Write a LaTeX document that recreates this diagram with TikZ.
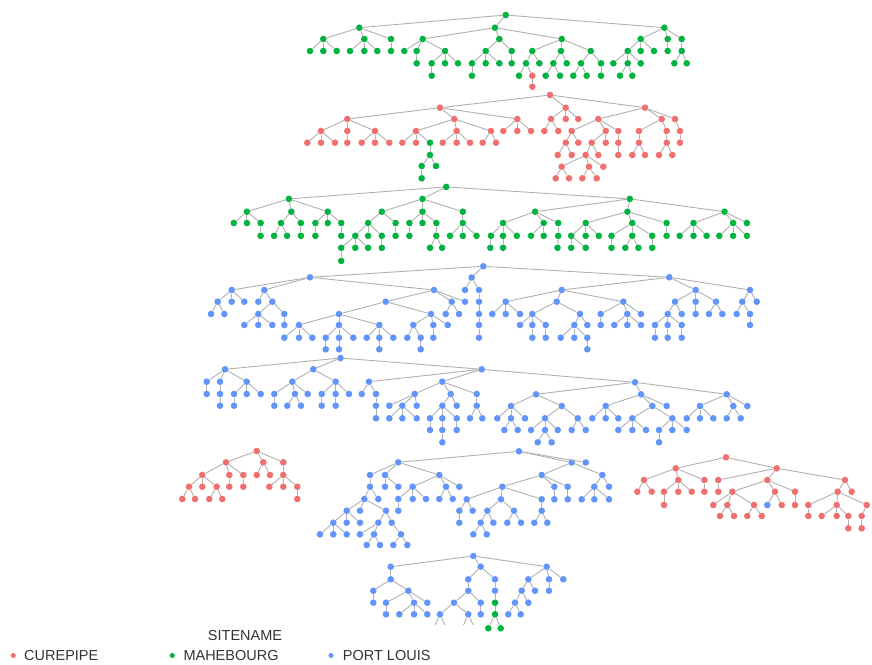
\documentclass[tikz,border=0pt]{standalone}
\usepackage{fontspec}
\setmainfont{Liberation Sans}
\definecolor{colG}{RGB}{0,178,64}
\definecolor{colR}{RGB}{240,112,112}
\definecolor{colB}{RGB}{98,148,250}
\definecolor{edgegray}{RGB}{176,176,176}
\definecolor{txt}{RGB}{51,51,51}
\tikzset{
  dot/.style={circle, inner sep=0pt, minimum size=6.6pt, draw=none},
  edge/.style={draw=edgegray, line width=0.9pt},
  legdot/.style={circle, inner sep=0pt, minimum size=5pt, draw=none},
  legtxt/.style={anchor=west, text=txt, font=\fontsize{14.5}{17}\selectfont, inner sep=0pt}
}
\def\TA{a0/505.7/15/a0/G, a1/359.3/27.7/a0/G, a2/495/27.7/a0/G, a3/664.3/27.7/a0/G,
a4/323.3/39/a1/G, a5/364.3/39/a1/G, a6/391/39/a1/G,
a7/310/51/a4/G, a8/323.3/51/a4/G, a9/336.7/51/a4/G, a10/350/51/a5/G, a11/364.3/51/a5/G, a12/377.3/51/a5/G, a13/391/51/a6/G,
a14/422.7/39/a2/G, a15/499.3/39/a2/G, a16/561.7/39/a2/G,
a17/404.3/51/a14/G, a18/416.7/51/a14/G, a19/445/51/a14/G, a20/416.7/63.3/a18/G,
a21/431.7/63.3/a19/G, a22/445/63.3/a19/G, a23/458/63.3/a19/G, a24/431.7/75.7/a21/G,
a25/485.7/51/a15/G, a26/511.7/51/a15/G, a27/472/63.3/a25/G, a28/485.7/63.3/a25/G, a29/499.3/63.3/a25/G, a30/472/75.7/a27/G, a31/511.7/63.3/a26/G,
a32/532.3/51/a16/G, a33/561/51/a16/G, a34/590.7/51/a16/G,
a35/526/63.3/a32/G, a36/539.3/63.3/a32/G, a37/519/75.7/a35/G, a38/532.3/75.7/a35/R, a39/532.3/86.7/a38/R,
a40/553.3/63.3/a33/G, a41/566.7/63.3/a33/G, a42/545.7/75.7/a40/G, a43/560/75.7/a40/G,
a44/581/63.3/a34/G, a45/601/63.3/a34/G, a46/573.3/75.7/a44/G, a47/586.7/75.7/a44/G, a48/601/75.7/a45/G,
a49/640.7/39/a3/G, a50/667.7/39/a3/G, a51/681.7/39/a3/G,
a52/627.7/51/a49/G, a53/640.7/51/a49/G, a54/654/51/a49/G,
a55/613.3/63.3/a52/G, a56/627.7/63.3/a52/G, a57/640.7/63.3/a52/G, a58/620/75.7/a56/G, a59/632.3/75.7/a56/G,
a60/667.7/51/a50/G, a61/681.7/51/a51/G, a62/674.3/63.3/a61/G, a63/686.7/63.3/a61/G}
\def\TB{b0/550/95/b0/R, b1/440/107.7/b0/R, b2/565.7/107.7/b0/R, b3/645/107.7/b0/R,
b4/347.3/119/b1/R, b5/454.3/119/b1/R, b6/517.3/119/b1/R,
b7/321/131/b4/R, b8/347.3/131/b4/R, b9/375/131/b4/R,
b10/307.3/142.7/b7/R, b11/321/142.7/b7/R, b12/335/142.7/b7/R, b13/347.3/142.7/b8/R,
b14/361.7/142.7/b9/R, b15/375/142.7/b9/R, b16/389.3/142.7/b9/R,
b17/416/131/b5/R, b18/456.7/131/b5/R, b19/491/131/b5/R,
b20/402.3/142.7/b17/R, b21/416/142.7/b17/R, b22/430/142.7/b17/G, b23/430/155/b22/G, b24/421.7/166/b23/G, b25/436/166/b23/G, b26/421.7/178.3/b24/G,
b27/442.7/142.7/b18/R, b28/456.7/142.7/b18/R, b29/470/142.7/b18/R, b30/482.7/142.7/b19/R, b31/496/142.7/b19/R,
b32/503.3/131/b6/R, b33/517.3/131/b6/R, b34/531/131/b6/R,
b35/551/119/b2/R, b36/565.7/119/b2/R, b37/578.3/119/b2/R, b38/544.3/131/b35/R, b39/558.3/131/b35/R,
b40/598.3/119/b3/R, b41/661.7/119/b3/R, b42/675/119/b3/R,
b43/571.7/131/b40/R, b44/605.7/131/b40/R, b45/618.3/131/b40/R,
b46/565.7/142.7/b43/R, b47/578.3/142.7/b43/R, b48/557.7/155/b46/R, b49/571.7/155/b46/R,
b50/591.7/142.7/b44/R, b51/605.7/142.7/b44/R, b52/585.7/155/b50/R, b53/598.3/155/b50/R,
b54/561.7/166.7/b52/R, b55/589/166.7/b52/R, b56/603.3/166.7/b52/R,
b57/555.7/178.3/b54/R, b58/569/178.3/b54/R, b59/582.3/178.3/b55/R, b60/596.7/178.3/b55/R,
b61/618.3/142.7/b45/R, b62/618.3/155/b61/R,
b63/639/131/b41/R, b64/666.7/131/b41/R, b65/680/131/b42/R,
b66/639/142.7/b63/R, b67/632.3/155/b66/R, b68/645/155/b66/R,
b69/666.7/142.7/b64/R, b70/659/155/b69/R, b71/672.3/155/b69/R, b72/680/142.7/b65/R}
\def\TC{c0/446.2/186.9/c0/G, c1/288.9/198.9/c0/G, c2/422.5/198.9/c0/G, c3/629.8/198.9/c0/G,
c4/246.9/211.7/c1/G, c5/291.3/211.7/c1/G, c6/327.8/211.7/c1/G,
c7/381.8/211.7/c2/G, c8/422.5/211.7/c2/G, c9/462.8/211.7/c2/G,
c10/535.1/211.7/c3/G, c11/627.4/211.7/c3/G, c12/724.5/211.7/c3/G,
c13/233.8/223/c4/G, c14/246.9/223/c4/G, c15/260.6/223/c4/G, c16/281/223/c5/G, c17/300.9/223/c5/G,
c18/315.4/223/c6/G, c19/327.8/223/c6/G, c20/341.2/223/c6/G, c21/368.1/223/c7/G, c22/395.6/223/c7/G,
c23/409.4/223/c8/G, c24/422.5/223/c8/G, c25/436.3/223/c8/G, c26/462.8/223/c9/G,
c27/503/223/c10/G, c28/543.7/223/c10/G, c29/558.2/223/c10/G,
c30/585.7/223/c11/G, c31/632.2/223/c11/G, c32/666.6/223/c11/G,
c33/693.5/223/c12/G, c34/733.1/223/c12/G, c35/746.9/223/c12/G,
c36/260.6/235.8/c15/G, c37/274.1/235.8/c16/G, c38/287.1/235.8/c16/G, c39/300.9/235.8/c17/G, c40/315.4/235.8/c18/G,
c41/341.2/235.8/c20/G, c42/355.3/235.8/c21/G, c43/368.1/235.8/c21/G, c44/381.8/235.8/c21/G, c45/395.6/235.8/c22/G,
c46/409.4/235.8/c23/G, c47/436.3/235.8/c25/G, c48/450/235.8/c26/G, c49/462.8/235.8/c26/G, c50/476.5/235.8/c26/G,
c51/491/235.8/c27/G, c52/503/235.8/c27/G, c53/516.8/235.8/c27/G, c54/531/235.8/c28/G, c55/543.7/235.8/c28/G, c56/558.2/235.8/c29/G,
c57/571.2/235.8/c30/G, c58/585.7/235.8/c30/G, c59/598.8/235.8/c30/G, c60/611.5/235.8/c31/G, c61/632.2/235.8/c31/G, c62/652.2/235.8/c31/G,
c63/666.6/235.8/c32/G, c64/679.7/235.8/c33/G, c65/693.5/235.8/c33/G, c66/706.6/235.8/c33/G,
c67/719.3/235.8/c34/G, c68/733.1/235.8/c34/G, c69/746.9/235.8/c34/G,
c70/341.2/247.8/c42/G, c71/355.3/247.8/c42/G, c72/368.1/247.8/c42/G, c73/381.8/247.8/c44/G,
c74/430/247.8/c47/G, c75/442.1/247.8/c47/G, c76/490.3/247.8/c51/G, c77/503/247.8/c52/G,
c78/557.5/247.8/c56/G, c79/571.2/247.8/c57/G, c80/585.7/247.8/c57/G,
c81/611.5/247.8/c60/G, c82/625.3/247.8/c61/G, c83/638.4/247.8/c61/G, c84/652.2/247.8/c62/G,
c85/341.2/260.9/c70/G}
\def\TD{d0/483.3/266.3/d0/B, d1/310/277.3/d0/B, d2/471.7/277.5/d0/B, d3/669.3/277.3/d0/B,
d4/231.7/290/d1/B, d5/264.3/290/d1/B, d6/434/290/d1/B,
d7/217.7/301.7/d4/B, d8/231.7/301.7/d4/B, d9/244.3/301.7/d4/B, d10/211/314/d7/B, d11/224.3/314/d7/B,
d12/258.3/301.7/d5/B, d13/272.3/301.7/d5/B, d14/258.3/314/d13/B, d15/284.3/314/d13/B,
d16/244.3/325/d14/B, d17/258.3/325/d14/B, d18/272.3/325/d14/B, d19/284.3/325/d15/B,
d20/385.7/301.7/d6/B, d21/451.7/301.7/d6/B, d22/339/314/d20/B, d23/431/314/d20/B,
d24/299/325/d22/B, d25/339/325/d22/B, d26/379.3/325/d22/B,
d27/284.3/337.7/d24/B, d28/299/337.7/d24/B, d29/312.3/337.7/d24/B,
d30/325.7/337.7/d25/B, d31/339/337.7/d25/B, d32/353.3/337.7/d25/B, d33/325.7/349.3/d30/B, d34/339/349.3/d31/B,
d35/366.7/337.7/d26/B, d36/379.3/337.7/d26/B, d37/393.3/337.7/d26/B, d38/379.3/349.3/d36/B,
d39/413.3/325/d23/B, d40/433.3/325/d23/B, d41/447.7/325/d23/B,
d42/407.3/337.7/d39/B, d43/420.7/337.7/d39/B, d44/420.7/349.3/d43/B, d45/433.3/337.7/d40/B,
d46/445.7/314/d21/B, d47/459/314/d21/B,
d48/465/290/d2/B, d49/479/290/d2/B, d50/465/301.7/d6/B, d51/479/301.7/d49/B, d52/479/314/d51/B, d53/479/325/d52/B, d54/479/337.7/d53/B,
d55/561.7/290/d3/B, d56/695.7/290/d3/B, d57/750/290/d3/B,
d58/505.7/301.7/d55/B, d59/556.7/301.7/d55/B, d60/623.3/301.7/d55/B,
d61/492.3/314/d58/B, d62/505.7/314/d58/B, d63/520/314/d58/B, d64/532.3/314/d59/B, d65/580/314/d59/B,
d66/520/325/d64/B, d67/532.3/325/d64/B, d68/545.7/325/d64/B, d69/532.3/337.7/d67/B, d70/545.7/337.7/d68/B,
d71/574.3/325/d65/B, d72/587.3/325/d65/B, d73/560.7/337.7/d71/B, d74/574.3/337.7/d71/B, d75/587.3/337.7/d71/B, d76/587.3/349.3/d75/B,
d77/600.7/314/d60/B, d78/627.3/314/d60/B, d79/641/314/d60/B, d80/600.7/325/d77/B,
d81/614.3/325/d78/B, d82/627.3/325/d78/B, d83/641/325/d78/B,
d84/675/301.7/d56/B, d85/695.7/301.7/d56/B, d86/716/301.7/d56/B,
d87/667.7/314/d84/B, d88/681.7/314/d84/B, d89/655/325/d87/B, d90/667.7/325/d87/B, d91/681.7/325/d87/B,
d92/655/337.7/d89/B, d93/667.7/337.7/d90/B, d94/681.7/337.7/d91/B,
d95/695.7/314/d85/B, d96/709/314/d86/B, d97/722.3/314/d86/B,
d98/742.3/301.7/d57/B, d99/756.7/301.7/d57/B, d100/736.7/314/d98/B, d101/750/314/d98/B, d102/750/325/d101/B}
\def\TE{e0/340.5/358/e0/B, e1/225/369.3/e0/B, e2/313.3/369.3/e0/B, e3/481.7/369.3/e0/B,
e4/206.7/381.7/e1/B, e5/220/381.7/e1/B, e6/246.7/381.7/e1/B, e7/206.7/394/e4/B, e8/220/394/e5/B, e9/220/405.7/e8/B,
e10/234/394/e6/B, e11/246.7/394/e6/B, e12/260.7/394/e6/B, e13/234/405.7/e10/B,
e14/292.3/381.7/e2/B, e15/335.7/381.7/e2/B,
e16/274.3/394/e14/B, e17/295/394/e14/B, e18/307.7/394/e14/B, e19/274.3/405.7/e16/B, e20/287.3/405.7/e17/B, e21/301/405.7/e17/B,
e22/321.7/394/e15/B, e23/335.7/394/e15/B, e24/349/394/e15/B, e25/321.7/405.7/e22/B, e26/335.7/405.7/e23/B,
e27/369/381.7/e3/B, e28/442.3/381.7/e3/B, e29/635/382.3/e3/B,
e30/361.7/394/e27/B, e31/376/394/e27/B, e32/376/405.7/e31/B, e33/376/418.3/e32/B,
e34/414.7/394/e28/B, e35/450.7/394/e28/B, e36/476.7/394/e28/B,
e37/389.3/405.7/e34/B, e38/402.3/405.7/e34/B, e39/416.7/405.7/e34/B,
e40/389.3/418.3/e38/B, e41/402.3/418.3/e38/B, e42/416.7/418.3/e38/B,
e43/442.3/405.7/e35/B, e44/456.7/405.7/e35/B, e45/430/418.3/e43/B, e46/442.3/418.3/e43/B, e47/456.7/418.3/e43/B,
e48/430/430/e45/B, e49/442.3/430/e46/B, e50/442.3/442.3/e49/B, e51/456.7/430/e47/B,
e52/476.7/405.7/e36/B, e53/470/418.3/e52/B, e54/482.3/418.3/e52/B,
e55/536/394.3/e29/B, e56/641/394.3/e29/B, e57/726.7/394.3/e29/B,
e58/511/406/e55/B, e59/561.7/406/e55/B, e60/497.3/418.3/e58/B, e61/511/418.3/e58/B, e62/525/418.3/e58/B,
e63/504.3/430/e61/B, e64/517.7/430/e61/B, e65/545/418.3/e59/B, e66/577.7/418.3/e59/B,
e67/531/430/e65/B, e68/545/430/e65/B, e69/557.7/430/e65/B, e70/537.7/442.3/e68/B, e71/551.7/442.3/e68/B,
e72/571.7/430/e66/B, e73/585.7/430/e66/B,
e74/605.7/406/e56/B, e75/652.3/406/e56/B, e76/666.7/406/e56/B,
e77/592.3/418.3/e74/B, e78/605.7/418.3/e74/B, e79/618.3/418.3/e74/B, e80/632.3/418.3/e75/B, e81/672.3/418.3/e75/B,
e82/618.3/430/e80/B, e83/632.3/430/e80/B, e84/646/430/e80/B, e85/659/430/e81/B, e86/672.3/430/e81/B, e87/686.7/430/e81/B, e88/659/442.3/e85/B,
e89/700/406/e57/B, e90/733.3/406/e57/B, e91/747.3/406/e57/B,
e92/686.7/418.3/e89/B, e93/700/418.3/e89/B, e94/713.3/418.3/e89/B, e95/726.7/418.3/e90/B, e96/740.7/418.3/e90/B}
\def\TF{f0/256.7/451/f0/R, f1/226/462.3/f0/R, f2/263.3/462.3/f0/R, f3/283.3/462.3/f0/R,
f4/202.3/475/f1/R, f5/229.3/475/f1/R, f6/243.3/475/f1/R,
f7/189/486.7/f4/R, f8/202.3/486.7/f4/R, f9/216.7/486.7/f4/R, f10/182.3/499/f7/R, f11/195/499/f7/R,
f12/209.3/499/f9/R, f13/222.3/499/f9/R, f14/229.3/486.7/f5/R, f15/243.3/486.7/f6/R,
f16/256.7/475/f2/R, f17/270/475/f2/R, f18/283.3/475/f3/R,
f19/269.3/486.7/f18/R, f20/283.3/486.7/f18/R, f21/297.3/486.7/f18/R, f22/297.3/499/f21/R}
\def\TH{h0/519/451.3/h0/B, h1/398.3/462.3/h0/B, h2/571.7/462.5/h0/B, h3/585.8/462.5/h0/B,
h4/370/475/h1/B, h5/385/475/h1/B, h6/439.3/475/h1/B,
h7/370/486.7/h4/B, h8/385/486.7/h5/B, h9/398.3/486.7/h5/B,
h10/412.7/486.7/h6/B, h11/446/486.7/h6/B, h12/459.3/486.7/h6/B,
h13/364.3/499/h7/B, h14/378.3/499/h7/B, h15/398.3/499/h10/B, h16/412.7/499/h10/B, h17/426/499/h10/B,
h18/398.3/510.7/h15/B, h19/439.3/499/h11/B, h20/452.7/499/h11/B,
h21/346.7/510.7/h13/B, h22/360/510.7/h13/B, h23/386/510.7/h13/B,
h24/333.3/522.7/h21/B, h25/346.7/522.7/h21/B, h26/360/522.7/h21/B,
h27/320/534.3/h24/B, h28/333.3/534.3/h24/B, h29/346.7/534.3/h24/B,
h30/378.3/522.7/h23/B, h31/391.7/522.7/h23/B, h32/360/534.3/h30/B, h33/374/534.3/h30/B, h34/401/534.3/h31/B,
h35/366.7/545/h33/B, h36/380/545/h33/B, h37/393.3/545/h34/B, h38/407.3/545/h34/B,
h39/541.7/475/h2/B, h40/602.3/475/h2/B,
h41/502.3/486.7/h39/B, h42/554.3/486.7/h39/B, h43/567.7/486.7/h39/B, h44/554.3/499.3/h42/B, h45/567.7/499.3/h43/B,
h46/594.3/486.7/h40/B, h47/609/486.7/h40/B, h48/581.7/499.3/h46/B, h49/594.3/499.3/h46/B, h50/609/499.3/h46/B,
h51/466.7/499.3/h41/B, h52/501/499.3/h41/B, h53/541.7/499.3/h41/B,
h54/459.3/510.7/h51/B, h55/472.7/510.7/h51/B, h56/459.3/522.7/h54/B,
h57/487.3/510.7/h52/B, h58/514/510.7/h52/B, h59/480.7/522.7/h57/B, h60/493.3/522.7/h57/B,
h61/473.3/534.3/h59/B, h62/486.7/534.3/h59/B, h63/507.3/522.7/h58/B, h64/521/522.7/h58/B,
h65/541.7/510.7/h53/B, h66/534.3/522.7/h65/B, h67/547.3/522.7/h65/B}
\def\TK{k0/726/457.3/k0/R, k1/675.7/468.3/k0/R, k2/776.7/468.3/k0/R,
k3/644/480/k1/R, k4/678.3/480/k1/R, k5/704.3/480/k1/R,
k6/637.3/491.7/k3/R, k7/651.7/491.7/k3/R, k8/664/491.7/k4/R, k9/678.3/491.7/k4/R, k10/691.7/491.7/k4/R,
k11/664/505/k8/R, k12/704.3/491.7/k5/R,
k13/718.3/480/k2/R, k14/767.3/480/k2/R, k15/845/480/k2/R,
k16/718.3/491.7/k13/R, k17/732.3/491.7/k14/R, k18/775/491.7/k14/R, k19/795/491.7/k14/R,
k20/713.3/505/k17/R, k21/727.3/505/k17/R, k22/754/505/k17/R,
k23/720/516/k21/R, k24/734/516/k21/R, k25/747.3/516/k22/R, k26/761.7/516/k22/R,
k27/767.3/505/k18/B, k28/781.7/505/k18/R, k29/795/505/k19/R,
k30/837.7/491.7/k15/R, k31/851.7/491.7/k15/R,
k32/808.3/505/k30/R, k33/836.7/505/k30/R, k34/866.7/505/k30/R,
k35/808.3/516/k32/R, k36/821.7/516/k33/R, k37/836.7/516/k33/R, k38/848.3/516/k33/R,
k39/848.3/528.3/k38/R, k40/861.7/516/k34/R, k41/861.7/528.3/k40/R}
\def\TM{m0/473.3/556/m0/B, m1/390.7/566.7/m0/B, m2/480.7/566.7/m0/B, m3/546.7/566.7/m0/B,
m4/390.7/579.3/m1/B, m5/373.3/590.7/m4/B, m6/408.3/590.7/m4/B, m7/373.3/602.7/m5/B,
m8/386/602.7/m6/B, m9/414/602.7/m6/B, m10/427.3/602.7/m6/B,
m11/386/614.3/m8/B, m12/399.3/614.3/m9/B, m13/414/614.3/m9/B, m14/427.3/614.3/m9/B,
m15/468.3/579.3/m2/B, m16/495/579.3/m2/B, m17/468.3/590.7/m15/B,
m18/454/602.7/m17/B, m19/480.7/602.7/m17/B, m20/440/614.3/m18/B, m21/468.3/614.3/m18/B, m22/480.7/614.3/m19/B,
m23/495/590.7/m16/B, m24/495/602.7/m23/G, m25/495/614.3/m24/G, m26/488.3/628.3/m25/G, m27/500.7/628.3/m25/G,
m28/528.3/579.3/m3/B, m29/549/579.3/m3/B, m30/563.3/579.3/m3/B,
m31/521.7/590.7/m28/B, m32/535/590.7/m28/B, m33/515/602.7/m31/B, m34/528.3/602.7/m31/B,
m35/508.3/614.3/m33/B, m36/520.7/614.3/m33/B, m37/549/590.7/m29/B}
\def\TMcut{m38/433.3/629/m20/B, m39/446.7/629/m20/B, m40/461.7/629/m21/B, m41/475/629/m21/B}
% pass 1: the dots (named nodes)
\newcommand{\placetree}[1]{%
  \foreach \n/\x/\y/\p/\k in #1 {%
    \node[dot, fill=col\k] (\n) at (\x,\y) {};
  }%
}
% pass 2: connectors from parent node to child node
\newcommand{\linktree}[1]{%
  \foreach \n/\x/\y/\p/\k in #1 {%
    \edef\tmpchild{\n}\edef\tmpparent{\p}%
    \ifx\tmpchild\tmpparent\else
      \draw[edge] (\p) -- (\n);
    \fi
  }%
}
\begin{document}
\begin{tikzpicture}[x=1pt, y=-1pt]
\useasboundingbox (0,0) rectangle (872,664);
\placetree{\TA}
\placetree{\TB}
\placetree{\TC}
\placetree{\TD}
\placetree{\TE}
\placetree{\TF}
\placetree{\TH}
\placetree{\TK}
\placetree{\TM}
\linktree{\TA}
\linktree{\TB}
\linktree{\TC}
\linktree{\TD}
\linktree{\TE}
\linktree{\TF}
\linktree{\TH}
\linktree{\TK}
\linktree{\TM}
\begin{scope}
  \clip (420,600) rectangle (485,624.5);
  \placetree{\TMcut}
  \linktree{\TMcut}
\end{scope}
% legend
\node[text=txt, font=\fontsize{14.5}{17}\selectfont, inner sep=0pt] (title) at (245,635) {SITENAME};
\node[legdot, fill=colR] (l1) at (13.3,655.5) {};
\node[legtxt] (t1) at (24,655.5) {CUREPIPE};
\node[legdot, fill=colG] (l2) at (172.3,655.5) {};
\node[legtxt] (t2) at (183.3,655.5) {MAHEBOURG};
\node[legdot, fill=colB] (l3) at (331,655.5) {};
\node[legtxt] (t3) at (342.7,655.5) {PORT LOUIS};
\end{tikzpicture}
\end{document}
